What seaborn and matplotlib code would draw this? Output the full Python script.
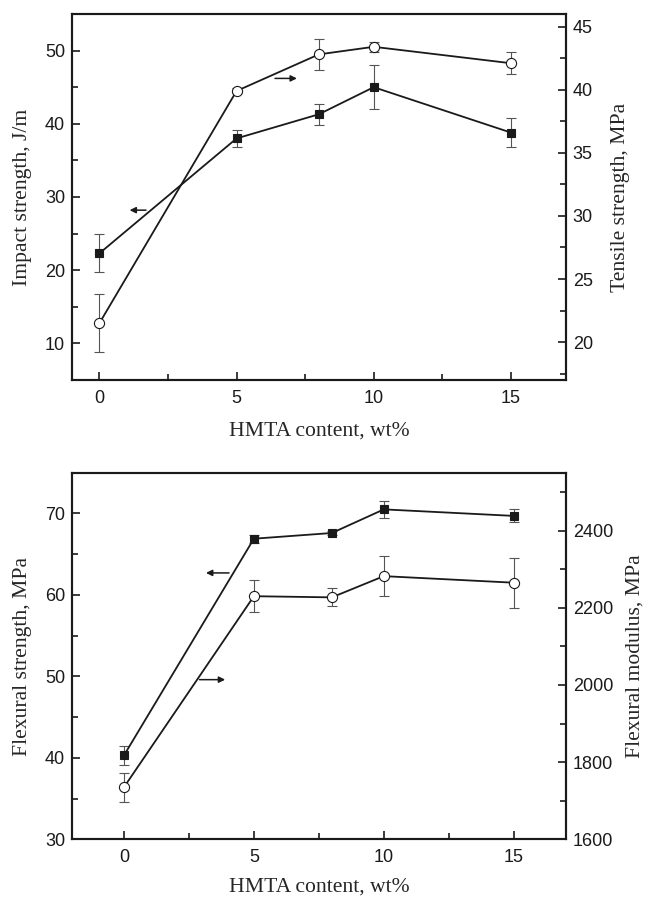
import numpy as np
import pandas as pd
import seaborn as sns
import matplotlib.pyplot as plt
from matplotlib.ticker import MultipleLocator

# HMTA content (wt%)
hmta = [0, 5, 8, 10, 15]

# top panel
impact = [22.3, 38.0, 41.3, 45.0, 38.8]
impact_err = [2.6, 1.2, 1.4, 3.0, 2.0]
tensile = [21.5, 39.9, 42.8, 43.4, 42.1]
tensile_err = [2.3, 0.2, 1.2, 0.4, 0.85]

# bottom panel
flex_strength = [40.3, 66.9, 67.6, 70.5, 69.7]
flex_strength_err = [1.2, 0.5, 0.2, 1.0, 0.8]
flex_modulus = [1735, 2230, 2227, 2282, 2265]
flex_modulus_err = [38, 41, 23, 52, 65]

sns.set_style("ticks")
plt.rcParams["font.family"] = ["Liberation Sans", "DejaVu Sans"]

serif = {"family": "Liberation Serif", "size": 15.6}

fig = plt.figure(figsize=(6.45, 8.97), dpi=100)
ax_top = fig.add_axes([0.1116, 0.5764, 0.7655, 0.408])
ax_bot = fig.add_axes([0.1116, 0.0643, 0.7655, 0.4087])


def draw_series(ax, y, err, marker, face, ms):
    df = pd.DataFrame({"x": hmta, "y": y})
    ax.errorbar(df["x"], df["y"], yerr=err, fmt="none", ecolor="#555555",
                elinewidth=0.8, capsize=3.5, capthick=0.8, zorder=2)
    sns.lineplot(data=df, x="x", y="y", ax=ax, color="#1a1a1a", lw=1.3,
                 marker=marker, markersize=ms, markerfacecolor=face,
                 markeredgecolor="#1a1a1a", markeredgewidth=0.8, zorder=3)


def style_axis(ax, xlim, ylim, major, minor):
    ax.set_xlim(*xlim)
    ax.set_ylim(*ylim)
    ax.xaxis.set_major_locator(MultipleLocator(5))
    ax.xaxis.set_minor_locator(MultipleLocator(2.5))
    ax.yaxis.set_major_locator(MultipleLocator(major))
    ax.yaxis.set_minor_locator(MultipleLocator(minor))
    ax.tick_params(which="both", direction="in", labelsize=13, pad=5,
                   width=1.2, color="#1a1a1a", labelcolor="#1a1a1a")
    ax.tick_params(axis="x", pad=7)
    ax.tick_params(which="major", length=6)
    ax.tick_params(which="minor", length=4)
    for s in ax.spines.values():
        s.set_linewidth(1.5)
        s.set_color("#1a1a1a")
        s.set_visible(True)


# ---- top: impact / tensile
draw_series(ax_top, impact, impact_err, "s", "#1a1a1a", 5.3)
style_axis(ax_top, (-1, 17), (5, 55), 10, 5)
ax_top.set_ylabel("Impact strength, J/m", fontdict=serif, labelpad=9)
ax_top.set_xlabel("HMTA content, wt%", fontdict=serif, labelpad=11)

ax_top2 = ax_top.twinx()
draw_series(ax_top2, tensile, tensile_err, "o", "white", 7.3)
style_axis(ax_top2, (-1, 17), (17, 46), 5, 2.5)
ax_top2.set_ylabel("Tensile strength, MPa", fontdict=serif, labelpad=13)
ax_top2.set_xlabel("")

ax_top.annotate("", xy=(7.3, 46.2), xytext=(6.3, 46.2),
                arrowprops=dict(arrowstyle="-|>", color="#1a1a1a", lw=1.1,
                                mutation_scale=9))
ax_top.annotate("", xy=(1.0, 28.2), xytext=(1.8, 28.2),
                arrowprops=dict(arrowstyle="-|>", color="#1a1a1a", lw=1.1,
                                mutation_scale=9))

# ---- bottom: flexural strength / modulus
draw_series(ax_bot, flex_strength, flex_strength_err, "s", "#1a1a1a", 5.3)
style_axis(ax_bot, (-2, 17), (30, 75), 10, 5)
ax_bot.set_ylabel("Flexural strength, MPa", fontdict=serif, labelpad=9)
ax_bot.set_xlabel("HMTA content, wt%", fontdict=serif, labelpad=8)

ax_bot2 = ax_bot.twinx()
draw_series(ax_bot2, flex_modulus, flex_modulus_err, "o", "white", 7.3)
style_axis(ax_bot2, (-2, 17), (1600, 2550), 200, 100)
ax_bot2.set_ylabel("Flexural modulus, MPa", fontdict=serif, labelpad=9)
ax_bot2.set_xlabel("")

ax_bot.annotate("", xy=(3.05, 62.7), xytext=(4.15, 62.7),
                arrowprops=dict(arrowstyle="-|>", color="#1a1a1a", lw=1.1,
                                mutation_scale=9))
ax_bot.annotate("", xy=(4.0, 49.6), xytext=(2.8, 49.6),
                arrowprops=dict(arrowstyle="-|>", color="#1a1a1a", lw=1.1,
                                mutation_scale=9))

fig.savefig("out.png", dpi=100)
